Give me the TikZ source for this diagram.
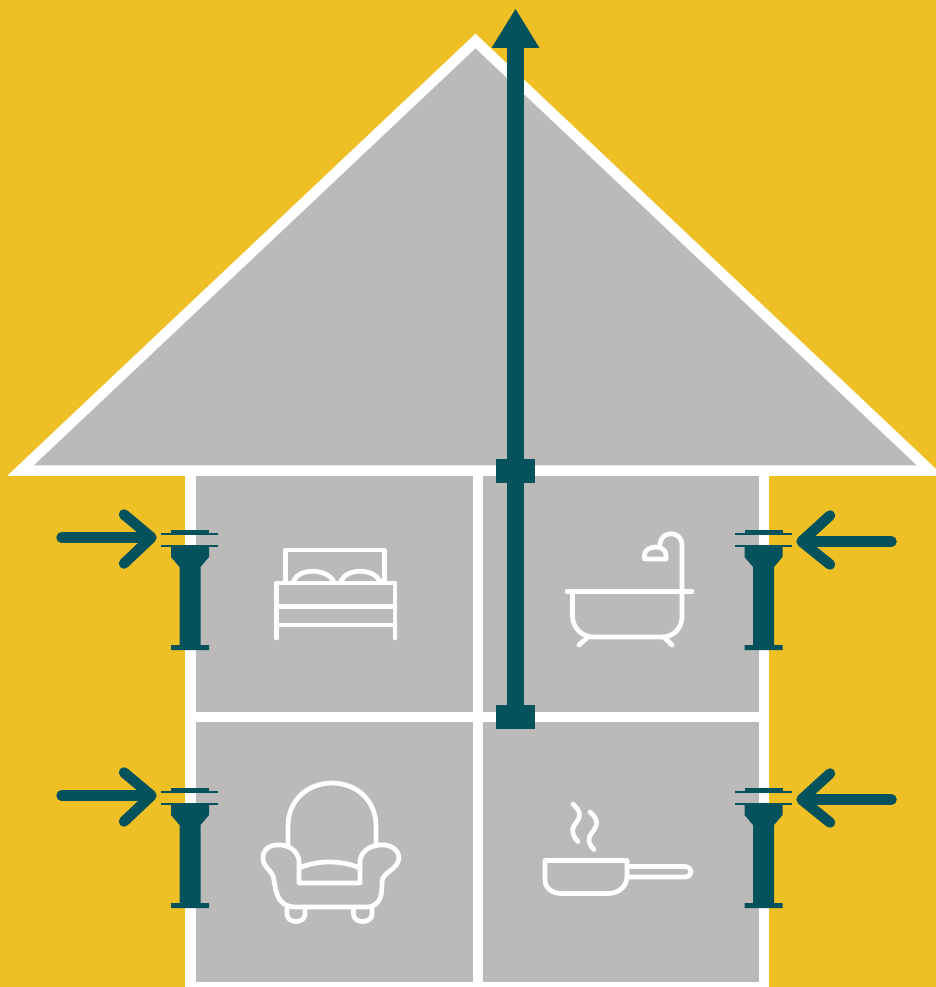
\documentclass[tikz,border=0pt]{standalone}
\usepackage{tikz}
\usetikzlibrary{calc,positioning,arrows.meta}
\definecolor{wallyellow}{RGB}{239,192,37}
\definecolor{duct}{RGB}{5,82,92}
\definecolor{roomgrey}{RGB}{187,186,184}
\begin{document}
\begin{tikzpicture}[x=1pt,y=-1pt,
  wall/.style={draw=white,line width=10.5pt},
  icon/.style={draw=white,line width=4.7pt,line cap=round,line join=round},
  flow/.style={draw=duct,line width=10.5pt,line cap=round,line join=round}]
\useasboundingbox (0,0) rectangle (936,987);
\clip (0,0) rectangle (936,987);
\fill[wallyellow] (0,0) rectangle (936,987);
% roof and rooms
\fill[roomgrey] (190.5,470) rectangle (764,987);
\draw[wall,fill=roomgrey,miter limit=10] (20.5,470.5) -- (475.5,41) -- (930,470.5) -- cycle;
\draw[wall] (190.5,470) -- (190.5,992);
\draw[wall] (764,470) -- (764,992);
\draw[wall] (478,470) -- (478,992);
\draw[wall] (190.5,717) -- (764,717);
\draw[wall] (186,987.5) -- (769,987.5);
% exhaust stack
\fill[duct] (507,40) rectangle (524,729);
\fill[duct] (515.5,9) -- (539.5,48) -- (491.5,48) -- cycle;
\fill[duct] (496,459) rectangle (535,483);
\fill[duct] (496,705) rectangle (535,729);
% wall vents
\foreach \vx/\vy in {190/0,763.5/0,190/258,763.5/258}
{
\begin{scope}[shift={(\vx,\vy)}]
\fill[duct] (-19,529.5) rectangle (19,534);
\fill[duct] (-29,533.2) rectangle (28,534.8);
\fill[duct] (-29,545.2) rectangle (28,546.8);
\fill[duct] (-19,546) -- (19,546) -- (19,557) -- (10.5,567) -- (10.5,645) -- (19,645) -- (19,650) -- (-19,650) -- (-19,645) -- (-10.5,645) -- (-10.5,567) -- (-19,557) -- cycle;
\end{scope}
}
% incoming air
\foreach \ay in {537.5,795.5}
{
\draw[flow] (61.5,\ay) -- (150,\ay);
\draw[flow] (124,\ay-23) -- (151.5,\ay) -- (124,\ay+26);
}
\foreach \ay in {541.5,799.5}
{
\draw[flow] (891.5,\ay) -- (803,\ay);
\draw[flow] (830,\ay-26) -- (801.5,\ay) -- (830,\ay+23);
}
% bed
\draw[icon] (285.5,583) -- (285.5,550) -- (384.5,550) -- (384.5,583);
\draw[icon] (276.5,638) -- (276.5,583) -- (395,583) -- (395,638);
\draw[icon] (276.5,606.5) -- (395,606.5);
\draw[icon] (276.5,625) -- (395,625);
\draw[icon] (293.5,581) .. controls (299,568) and (326,568) .. (333.5,581);
\draw[icon] (341,581) .. controls (347,568) and (373,568) .. (380,581);
% bath
\draw[icon] (567,591.5) -- (692,591.5);
\draw[icon] (572.5,591.5) -- (572.5,616) .. controls (572.5,628) and (582,637) .. (594,637) -- (662,637) .. controls (674,637) and (682,628) .. (682,616) -- (682,545) .. controls (682,530) and (660,530) .. (660,545);
\draw[icon] (588,637) -- (579,645);
\draw[icon] (664,637) -- (672,645);
\draw[icon] (644.5,559) -- (666,559) -- (666,555) .. controls (666,550) and (661,547) .. (656,547) .. controls (650,547) and (644.5,550) .. (644.5,555) -- cycle;
% armchair
\draw[icon] (288,845) -- (288,826) .. controls (288,800) and (308,783) .. (332,783) .. controls (356,783) and (376,800) .. (376,826) -- (376,845);
\draw[icon] (299,883) -- (299,860) .. controls (297,850) and (288,844) .. (276,845) .. controls (266,846) and (262,853) .. (263,859) .. controls (264,868) and (271,870) .. (273,876) .. controls (276,886) and (274,907) .. (296,907) -- (366,907) .. controls (382,907) and (382,892) .. (382,882) .. controls (382,872) and (398,870) .. (399,858) .. controls (399,851) and (393,846) .. (385,845) .. controls (372,844) and (362,850) .. (360,860) -- (360,883) -- cycle;
\draw[icon] (299,868) .. controls (318,860) and (341,860) .. (360,868);
\draw[icon] (287,907) -- (287,914) .. controls (287,924) and (305,924) .. (305,914) -- (305,907);
\draw[icon] (353.5,907) -- (353.5,914) .. controls (353.5,924) and (372,924) .. (372,914) -- (372,907);
% pan
\draw[icon] (545,860.5) -- (627,860.5) -- (627,876) .. controls (627,887) and (618,893.5) .. (608,893.5) -- (562,893.5) .. controls (552,893.5) and (545,888) .. (545,880) -- cycle;
\draw[icon] (627,866.5) -- (685,866.5) .. controls (689,866.5) and (691,870) .. (691,872) .. controls (691,874) and (689,877) .. (685,877) -- (627,877);
\draw[icon] (573,804) .. controls (578,809) and (581,813) .. (579,818) .. controls (576,824) and (571,827) .. (573,833) .. controls (574,837) and (576,840) .. (578,841.5);
\draw[icon] (590,812) .. controls (595,816) and (598,821) .. (596,826) .. controls (594,832) and (588,835) .. (589,841) .. controls (590,845) and (592,848) .. (594,849.5);
\end{tikzpicture}
\end{document}
